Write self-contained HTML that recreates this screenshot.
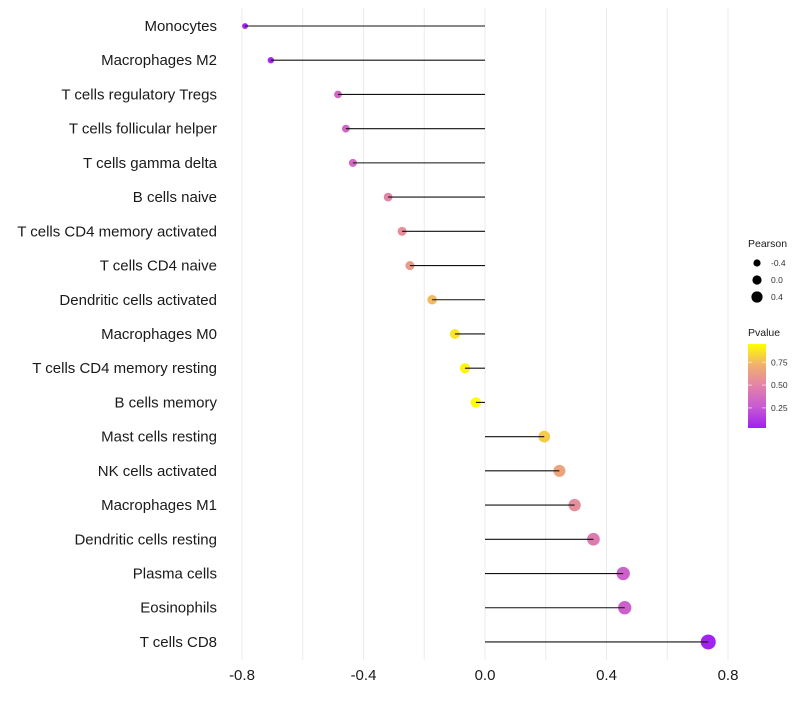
<!DOCTYPE html>
<html><head><meta charset="utf-8"><style>
body{margin:0;background:#fff;font-family:"Liberation Sans",sans-serif}
</style></head><body>
<svg id="chart" width="800" height="700" xmlns="http://www.w3.org/2000/svg"></svg>
<script>
const categories=["Monocytes","Macrophages M2","T cells regulatory  Tregs","T cells follicular helper","T cells gamma delta","B cells naive","T cells CD4 memory activated","T cells CD4 naive","Dendritic cells activated","Macrophages M0","T cells CD4 memory resting","B cells memory","Mast cells resting","NK cells activated","Macrophages M1","Dendritic cells resting","Plasma cells","Eosinophils","T cells CD8"];
const pearson=[-0.79,-0.705,-0.484,-0.458,-0.435,-0.319,-0.273,-0.247,-0.174,-0.099,-0.066,-0.03,0.195,0.245,0.295,0.357,0.455,0.46,0.735];
const pvalues=[0.04,0.06,0.33,0.33,0.35,0.5,0.55,0.62,0.75,0.88,0.92,0.96,0.8,0.66,0.55,0.45,0.3,0.3,0.04];
const xTicks=[-0.8,-0.4,0.0,0.4,0.8];
const xTickLabels=["-0.8","-0.4","0.0","0.4","0.8"];
const xGrid=[-0.8,-0.6,-0.4,-0.2,0,0.2,0.4,0.6,0.8];
const sizeLegend=[-0.4,0.0,0.4];
const colorLegendTicks=[0.25,0.5,0.75];

const svg=document.getElementById('chart');
const NS="http://www.w3.org/2000/svg";
function mk(t,a,p){const e=document.createElementNS(NS,t);for(const k in a)e.setAttribute(k,a[k]);(p||svg).appendChild(e);return e;}
const x=v=>485+v*303.75;
const y=i=>26+i*34.22;
const r=v=>Math.max(1.8,5.3+3*v);
const stops=[[0,[160,32,240]],[0.25,[200,90,210]],[0.5,[226,130,170]],[0.75,[240,176,110]],[1,[255,255,0]]];
const pmin=0.03,pmax=0.95;
function col(p){let t=Math.max(0,Math.min(1,(p-pmin)/(pmax-pmin)));for(let i=0;i<stops.length-1;i++){const[a,ca]=stops[i],[b,cb]=stops[i+1];if(t<=b){const f=(t-a)/(b-a);return `rgb(${ca.map((c,j)=>Math.round(c+(cb[j]-c)*f)).join(',')})`;}}return 'rgb(255,255,0)';}

xGrid.forEach(v=>{const g=mk('line',{x1:x(v),x2:x(v),y1:8,y2:660,stroke:'#ebebeb','stroke-width':1});

});

categories.forEach((c,i)=>{
 const t=mk('text',{x:217,y:y(i)+5,'text-anchor':'end','font-size':15,fill:'#1a1a1a'});t.textContent=c;
 
 
 const pt=mk('circle',{cx:x(pearson[i]),cy:y(i),r:r(pearson[i]),fill:col(pvalues[i])});
 
 
 const ln=mk('line',{x1:x(0),x2:x(pearson[i]),y1:y(i),y2:y(i),stroke:'#111','stroke-width':1.1});
 
 
});
xTicks.forEach((v,i)=>{const t=mk('text',{x:x(v),y:680,'text-anchor':'middle','font-size':15,fill:'#1a1a1a'});t.textContent=xTickLabels[i];

});

const lg=mk('g',{});


const t1=mk('text',{x:748,y:247,'font-size':10.5,fill:'#1a1a1a'},lg);t1.textContent='Pearson';
sizeLegend.forEach((v,i)=>{const cy=263+i*17;
 const c=mk('circle',{cx:757,cy:cy,r:4.6+2.5*v,fill:'#000'},lg);
 
 
 const t=mk('text',{x:771,y:cy+3,'font-size':8.5,fill:'#333'},lg);t.textContent=(v<0?'-':'')+Math.abs(v).toFixed(1);});
const t2=mk('text',{x:748,y:336,'font-size':10.5,fill:'#1a1a1a'},lg);t2.textContent='Pvalue';
const defs=mk('defs',{});const gr=mk('linearGradient',{id:'pg',x1:0,y1:1,x2:0,y2:0},defs);
stops.forEach(s=>mk('stop',{offset:s[0],'stop-color':`rgb(${s[1].join(',')})`},gr));
const bar=mk('rect',{x:748,y:344,width:18,height:84,fill:'url(#pg)'},lg);


colorLegendTicks.forEach(v=>{const cy=428-(v-pmin)/(pmax-pmin)*84;
 mk('line',{x1:748,x2:752,y1:cy,y2:cy,stroke:'#fff','stroke-opacity':0.6},lg);mk('line',{x1:762,x2:766,y1:cy,y2:cy,stroke:'#fff','stroke-opacity':0.6},lg);
 const t=mk('text',{x:771,y:cy+3,'font-size':8.5,fill:'#333'},lg);t.textContent=v.toFixed(2);});
</script>
</body></html>
